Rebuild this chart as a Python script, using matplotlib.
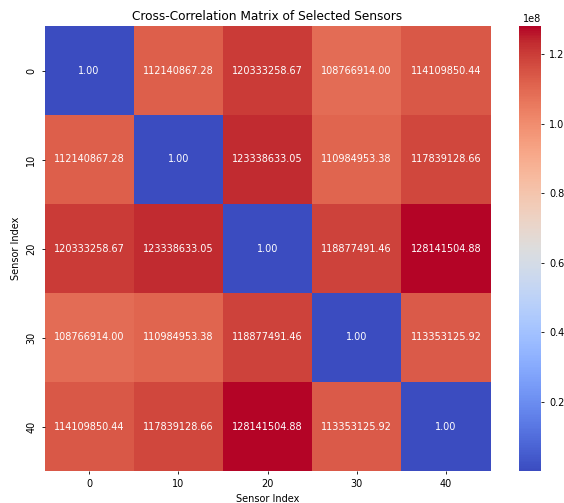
import numpy as np
import matplotlib
matplotlib.use("Agg")
import matplotlib.pyplot as plt
import seaborn as sns

sensors = [0, 10, 20, 30, 40]
row_0 = [1.00, 112140867.28, 120333258.67, 108766914.00, 114109850.44]
row_10 = [112140867.28, 1.00, 123338633.05, 110984953.38, 117839128.66]
row_20 = [120333258.67, 123338633.05, 1.00, 118877491.46, 128141504.88]
row_30 = [108766914.00, 110984953.38, 118877491.46, 1.00, 113353125.92]
row_40 = [114109850.44, 117839128.66, 128141504.88, 113353125.92, 1.00]

matrix = np.array([row_0, row_10, row_20, row_30, row_40])

plt.rcParams["font.family"] = ["DejaVu Sans"]
base = 7.0

fig = plt.figure(figsize=(5.64, 5.03), dpi=100)
ax = fig.add_axes([44.5 / 564, 1 - 471 / 503, 446 / 564, 445 / 503])
cax = fig.add_axes([519 / 564, 1 - 471 / 503, 22 / 564, 445 / 503])

sns.heatmap(matrix, ax=ax, cbar_ax=cax, cmap="coolwarm", annot=True, fmt=".2f",
            xticklabels=sensors, yticklabels=sensors,
            annot_kws={"fontsize": base})

ax.set_title("Cross-Correlation Matrix of Selected Sensors", fontsize=8.7, pad=4)
ax.set_xlabel("Sensor Index", fontsize=base, labelpad=3)
ax.set_ylabel("Sensor Index", fontsize=base, labelpad=4)
ax.tick_params(labelsize=base, length=2.5, width=0.6)
cax.tick_params(labelsize=base, length=2.5, width=0.6)
cax.yaxis.get_offset_text().set_fontsize(base)
for s in cax.spines.values():
    s.set_visible(False)

fig.savefig("out.png", dpi=100)
